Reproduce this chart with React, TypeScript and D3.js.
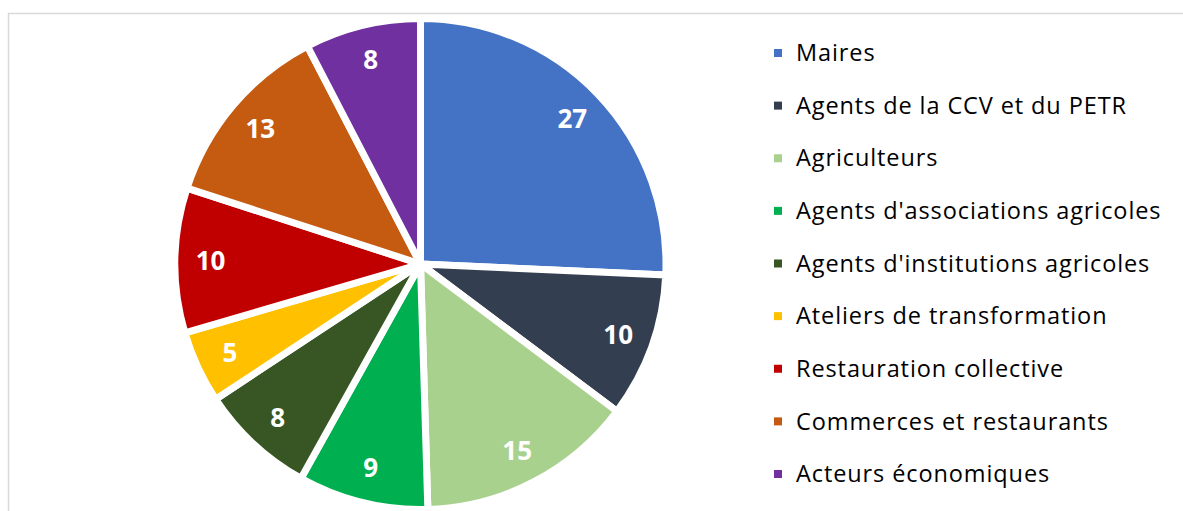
import React from "react";
import * as d3 from "d3";

const categories = [
  "Maires",
  "Agents de la CCV et du PETR",
  "Agriculteurs",
  "Agents d'associations agricoles",
  "Agents d'institutions agricoles",
  "Ateliers de transformation",
  "Restauration collective",
  "Commerces et restaurants",
  "Acteurs économiques",
];
const values = [27, 10, 15, 9, 8, 5, 10, 13, 8];
const colors = ["#4472C4", "#333F50", "#A9D18E", "#00B050", "#375623", "#FFC000", "#C00000", "#C55A11", "#7030A0"];

export default function App() {
  const W = 1183, H = 511;
  const cx = 420.5, cy = 264, R = 245.5;
  const data = categories.map((c, i) => ({ c, v: values[i], col: colors[i] }));
  const pie = d3.pie<any>().value((d) => d.v).sort(null);
  const arcs = pie(data);
  const arc = d3.arc<any>().innerRadius(0).outerRadius(R);
  const labelArc = d3.arc<any>().innerRadius(210).outerRadius(210);
  const legendY = d3.scaleLinear().domain([0, 8]).range([53, 474]);
  return (
    <svg width={W} height={H} style={{ position: "absolute", left: 0, top: 0 }}>
      <rect x={0} y={0} width={W} height={H} fill="#fff" />
      <rect x={8.5} y={13.5} width={W + 20} height={H + 20} fill="none" stroke="#D9D9D9" strokeWidth={1.5} />
      <g transform={`translate(${cx},${cy})`}>
        {arcs.map((a, i) => (
          <path key={i} d={arc(a) as string} fill={a.data.col} stroke="#fff" strokeWidth={7} strokeLinejoin="round" />
        ))}
        {arcs.map((a, i) => {
          const [x, y] = labelArc.centroid(a);
          return (
            <text key={i} x={x} y={y} dy="0.36em" textAnchor="middle" fill="#fff" fontFamily="'Open Sans', sans-serif" fontWeight="bold" fontSize={26}>
              {a.data.v}
            </text>
          );
        })}
      </g>
      {data.map((d, i) => (
        <g key={i} transform={`translate(0,${legendY(i)})`}>
          <rect x={774} y={-4} width={8} height={8} fill={d.col} />
          <text x={796} y={0} dy="0.35em" fill="#000" fontFamily="'Open Sans', sans-serif" fontSize={23.5} letterSpacing={0.9}>
            {d.c}
          </text>
        </g>
      ))}
    </svg>
  );
}
